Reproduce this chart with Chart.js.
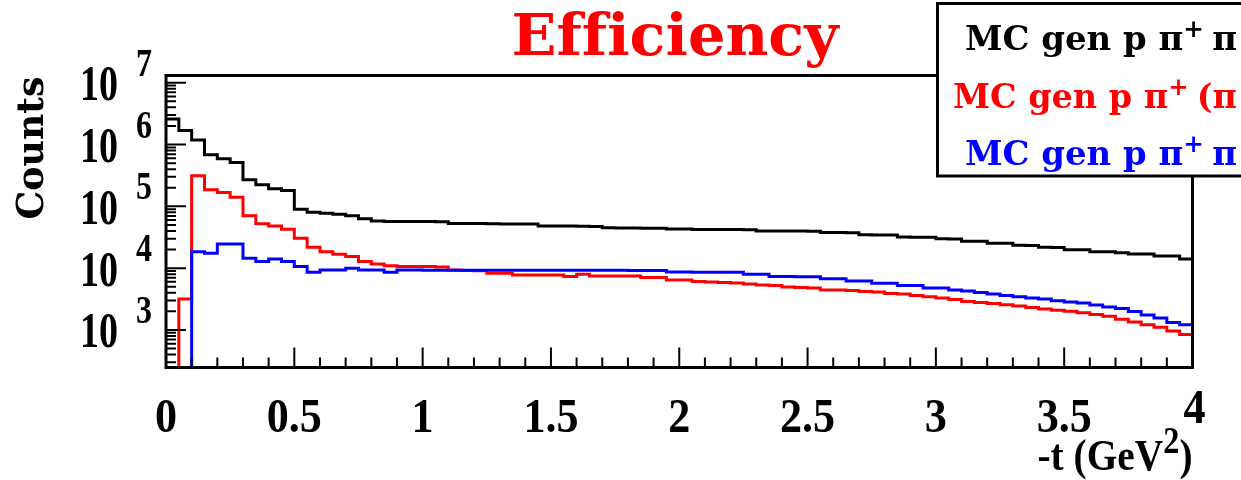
<!DOCTYPE html>
<html>
<head>
<meta charset="utf-8">
<script src="https://cdn.jsdelivr.net/npm/chart.js@4.4.0/dist/chart.umd.min.js"></script>
<style>
  html, body { margin: 0; padding: 0; background: #fff; }
</style>
</head>
<body>
<canvas id="tChart" width="1241" height="480"></canvas>
<script>
'use strict'

// -t binning: 80 bins of 0.05 GeV^2 from 0 to 4
const T_MIN = 0
const BIN_WIDTH = 0.05

// counts per bin
const genCounts = [
    2.58e6, 1.69e6, 1.19e6, 6.82e5, 5.88e5, 5.12e5, 2.69e5, 2.23e5, 1.92e5, 1.80e5,
    9.01e4, 8.05e4, 7.76e4, 7.48e4, 7.02e4, 6.28e4, 5.82e4, 5.71e4, 5.71e4, 5.67e4,
    5.67e4, 5.65e4, 5.30e4, 5.30e4, 5.28e4, 5.21e4, 5.20e4, 5.19e4, 5.18e4, 4.83e4,
    4.81e4, 4.79e4, 4.76e4, 4.74e4, 4.49e4, 4.47e4, 4.45e4, 4.43e4, 4.41e4, 4.32e4,
    4.30e4, 4.24e4, 4.23e4, 4.22e4, 4.21e4, 4.20e4, 4.01e4, 4.00e4, 3.99e4, 3.98e4,
    3.97e4, 3.77e4, 3.76e4, 3.75e4, 3.46e4, 3.45e4, 3.44e4, 3.18e4, 3.17e4, 3.16e4,
    2.98e4, 2.97e4, 2.73e4, 2.72e4, 2.54e4, 2.53e4, 2.34e4, 2.33e4, 2.17e4, 2.16e4,
    1.99e4, 1.98e4, 1.85e4, 1.84e4, 1.77e4, 1.70e4, 1.70e4, 1.58e4, 1.57e4, 1.41e4
]
const missCounts = [
    0, 3180, 3.12e5, 1.85e5, 1.67e5, 1.41e5, 7.02e4, 5.21e4, 4.83e4, 4.27e4,
    3.05e4, 2.18e4, 1.85e4, 1.68e4, 1.54e4, 1.28e4, 1.17e4, 1.09e4, 1.06e4, 1.06e4,
    1.06e4, 1.04e4, 9300, 9200, 9100, 8280, 8280, 7780, 7780, 7780,
    7760, 7300, 7980, 7490, 7490, 7480, 7460, 7030, 7030, 6450,
    6440, 6100, 5990, 5880, 5770, 5560, 5350, 5220, 4970, 4880,
    4790, 4440, 4440, 4360, 4200, 4130, 3900, 3830, 3620, 3460,
    3300, 3120, 2900, 2780, 2690, 2560, 2450, 2320, 2190, 2090,
    2000, 1900, 1780, 1660, 1490, 1350, 1210, 1110, 964, 846
]
const fullCounts = [
    0, 0, 1.85e4, 1.75e4, 2.47e4, 2.47e4, 1.45e4, 1.28e4, 1.41e4, 1.28e4,
    1.06e4, 8600, 9370, 9370, 9980, 9370, 9370, 8600, 9300, 9300,
    9290, 9280, 9280, 9270, 9270, 9260, 9260, 9250, 9250, 9240,
    9240, 9230, 9230, 9220, 9220, 9210, 9200, 9200, 9190, 8630,
    8630, 8620, 8620, 8610, 8600, 7980, 7970, 7300, 7300, 7290,
    7280, 6750, 6740, 6220, 6210, 5710, 5700, 5260, 5250, 4790,
    4780, 4440, 4280, 4020, 3830, 3620, 3460, 3300, 3180, 2980,
    2840, 2740, 2540, 2360, 2230, 1990, 1750, 1560, 1320, 1210
]

const seriesLabels = ['MC gen p π⁺π', 'MC gen p π⁺(π', 'MC gen p π⁺π']
const seriesColors = ['#000000', '#ff0000', '#0000ff']
const xTickLabels = ['0', '0.5', '1', '1.5', '2', '2.5', '3', '3.5', '4']
const yDecades = [3, 4, 5, 6, 7]

const SERIF = '"Liberation Serif", serif'
const WIDE_SERIF = '"DejaVu Serif", serif'
const SUP = {'⁺': '+', '²': '2'}

// empty bins can't sit on a log axis, push them below the frame instead
const EMPTY_BIN_FLOOR = 1

// histogram outline: one point per low bin edge plus the closing edge
const toSteps = counts => {
    const pts = counts.map((v, i) => ({x: T_MIN + i * BIN_WIDTH, y: v > 0 ? v : EMPTY_BIN_FLOOR}))
    pts.push({x: T_MIN + counts.length * BIN_WIDTH, y: pts[pts.length - 1].y})
    return pts
}

// text with raised superscripts, optionally squeezed to a given width
function drawRich(ctx, text, x, y, opt) {
    const {size, family, color = '#000', supScale = 0.75, supRise = 0.4, supGap = 0, align = 'left'} = opt
    const runs = []
    let w = 0
    for (const ch of text) {
        const sup = SUP[ch]
        const font = 'bold ' + (sup ? Math.round(size * supScale) : size) + 'px ' + family
        ctx.font = font
        const g = sup || ch
        runs.push({g, font, x: w, dy: sup ? -size * supRise : 0})
        w += ctx.measureText(g).width + (sup ? supGap : 0)
    }
    const sx = opt.width ? opt.width / w : (opt.sx || 1)
    let x0 = x
    if (align === 'right') x0 = x - w * sx
    if (align === 'center') x0 = x - w * sx / 2
    ctx.save()
    ctx.fillStyle = color
    ctx.textAlign = 'left'
    ctx.textBaseline = 'alphabetic'
    ctx.translate(x0, y)
    ctx.scale(sx, 1)
    runs.forEach(r => {
        ctx.font = r.font
        ctx.fillText(r.g, r.x, r.dy)
    })
    ctx.restore()
}

// frame, inward ticks, labels, title and legend box
const rootFrame = {
    id: 'rootFrame',
    afterDraw(chart) {
        const ctx = chart.ctx
        const area = chart.chartArea
        const xs = chart.scales.x
        const ys = chart.scales.y

        ctx.save()
        ctx.strokeStyle = '#000'
        ctx.lineWidth = 2
        ctx.beginPath()
        for (let v = 0; v <= 40; v++) {
            const px = xs.getPixelForValue(v / 10)
            const len = v % 5 === 0 ? 20 : 10
            ctx.moveTo(px, area.bottom)
            ctx.lineTo(px, area.bottom - len)
        }
        for (let d = 2; d <= 7; d++) {
            for (let m = 1; m <= 9; m++) {
                const v = m * Math.pow(10, d)
                if (v < ys.min || v > ys.max) continue
                const py = ys.getPixelForValue(v)
                ctx.moveTo(area.left, py)
                ctx.lineTo(area.left + (m === 1 ? 20 : 10), py)
            }
        }
        ctx.stroke()

        ctx.lineWidth = 3
        ctx.strokeRect(area.left, area.top, area.right - area.left, area.bottom - area.top)
        ctx.restore()

        xTickLabels.forEach((lab, i) => {
            const px = xs.getPixelForValue(parseFloat(lab))
            const last = i === xTickLabels.length - 1
            drawRich(ctx, lab, px + (last ? 2 : 0), last ? 423 : 432, {size: 49, family: SERIF, sx: 0.9, align: 'center'})
        })
        yDecades.forEach(d => {
            const py = ys.getPixelForValue(Math.pow(10, d))
            drawRich(ctx, '10', 99, py + 17.5, {size: 50, family: SERIF, width: 38, align: 'center'})
            drawRich(ctx, String(d), 144, py - 7, {size: 39, family: SERIF, sx: 0.82, align: 'center'})
        })

        drawRich(ctx, '-t (GeV²)', area.right, 470, {size: 45, family: SERIF, width: 155, align: 'right', supScale: 0.82, supRise: 0.38})

        ctx.save()
        ctx.translate(29, 148)
        ctx.rotate(-Math.PI / 2)
        drawRich(ctx, 'Counts', 0, 14, {size: 38, family: WIDE_SERIF, width: 143, align: 'center'})
        ctx.restore()

        drawRich(ctx, 'Efficiency', 675, 55, {size: 58, family: WIDE_SERIF, color: '#ff0000', width: 327, align: 'center'})

        // legend box sits over the top right corner of the frame
        ctx.save()
        ctx.fillStyle = '#fff'
        ctx.fillRect(937, 3, 320, 173)
        ctx.strokeStyle = '#000'
        ctx.lineWidth = 3
        ctx.strokeRect(937.5, 3.5, 320, 172.5)
        ctx.restore()
        const legendX = [965, 953, 965]
        const legendY = [50, 108, 165]
        const legendW = [272, 284, 272]
        chart.data.datasets.forEach((ds, i) => {
            drawRich(ctx, ds.label, legendX[i], legendY[i], {
                size: 33, family: WIDE_SERIF, color: ds.borderColor, width: legendW[i],
                supScale: 0.72, supRise: 0.38, supGap: 8
            })
        })
    }
}

const datasets = [genCounts, missCounts, fullCounts].map((counts, i) => ({
    label: seriesLabels[i],
    data: toSteps(counts),
    borderColor: seriesColors[i],
    borderWidth: 3,
    stepped: true,
    fill: false,
    pointRadius: 0,
    order: 2 - i
}))

new Chart(document.getElementById('tChart'), {
    type: 'line',
    data: {datasets},
    options: {
        responsive: false,
        animation: false,
        devicePixelRatio: 1,
        layout: {padding: {left: 0, top: 75.5, right: 48.5, bottom: 0}},
        plugins: {
            legend: {display: false},
            title: {display: false},
            tooltip: {enabled: false}
        },
        scales: {
            x: {
                type: 'linear',
                min: 0,
                max: 4,
                grid: {display: false},
                border: {display: false},
                ticks: {display: false},
                afterFit: s => { s.height = 112.5 }
            },
            y: {
                type: 'logarithmic',
                min: 247,
                max: 1.31e7,
                grid: {display: false},
                border: {display: false},
                ticks: {display: false},
                afterFit: s => { s.width = 166 }
            }
        }
    },
    plugins: [rootFrame]
})
</script>
</body>
</html>
